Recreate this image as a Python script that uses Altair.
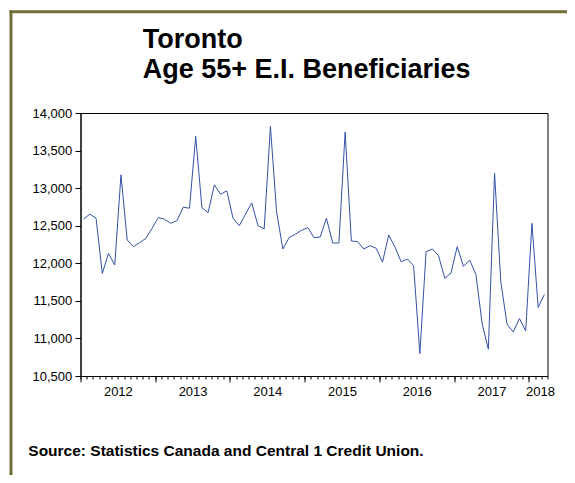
import altair as alt
import pandas as pd

# Monthly values (index 0 = first month shown)
VALUES = [12590, 12653, 12600, 11865, 12132, 11977, 13177, 12310, 12221, 12275,
          12332, 12466, 12608, 12586, 12532, 12568, 12746, 12733, 13689, 12741,
          12675, 13044, 12919, 12964, 12599, 12501, 12653, 12804, 12501, 12457,
          13822, 12679, 12190, 12341, 12386, 12439, 12475, 12341, 12350, 12599,
          12270, 12270, 13747, 12297, 12288, 12190, 12235, 12199, 12015, 12377,
          12215, 12021, 12057, 11968, 10798, 12154, 12190, 12101, 11799, 11870,
          12221, 11959, 12043, 11852, 11198, 10856, 13200, 11754, 11190, 11087,
          11265, 11101, 12532, 11412, 11585]

YEAR_LABELS = ["2012", "2013", "2014", "2015", "2016", "2017", "2018"]
YEAR_LABEL_POS = [6, 18, 30, 42, 54, 66, 73.8]
MAJOR_TICKS = [0, 12, 24, 36, 48, 60, 72]
MINOR_TICKS = list(range(0, 76))
Y_TICKS = [10500, 11000, 11500, 12000, 12500, 13000, 13500, 14000]
TITLE_LINES = ["Toronto", "Age 55+ E.I. Beneficiaries"]
SOURCE = "Source: Statistics Canada and Central 1 Credit Union."

FONT = "Liberation Sans"
LINE_COLOR = "#3352A6"
FRAME_COLOR = "#6E6E36"

df = pd.DataFrame({"m": [i + 0.5 for i in range(len(VALUES))], "v": VALUES})
one = pd.DataFrame({"k": [0]})

xscale = alt.Scale(domain=[0, len(VALUES)], nice=False, zero=False)
yscale = alt.Scale(domain=[Y_TICKS[0], Y_TICKS[-1]], nice=False, zero=False)

label_expr = "{" + ",".join(f"'{p}':'{l}'" for p, l in zip(YEAR_LABEL_POS, YEAR_LABELS)) + "}[datum.value]"

yaxis = alt.Axis(values=Y_TICKS, labelExpr="format(datum.value, ',.0f')", tickSize=5.5,
                 labelPadding=3.3, grid=False, title=None, labelFlush=False,
                 labelOverlap=False, labelBound=False)

line = alt.Chart(df).mark_line(color=LINE_COLOR, strokeWidth=1).encode(
    x=alt.X("m:Q", scale=xscale,
            axis=alt.Axis(values=YEAR_LABEL_POS, labelExpr=label_expr, ticks=False, tickSize=0,
                          labelPadding=9.5, orient="bottom", grid=False, title=None,
                          labelFlush=False, labelOverlap=False, labelBound=False, domain=True)),
    y=alt.Y("v:Q", scale=yscale, axis=yaxis),
)

minor = alt.Chart(df).mark_line(opacity=0).encode(
    x=alt.X("m:Q", scale=xscale,
            axis=alt.Axis(values=MINOR_TICKS, tickSize=3, labels=False, domain=False,
                          orient="bottom", grid=False, title=None)),
    y=alt.Y("v:Q", scale=yscale, axis=yaxis),
)

major = alt.Chart(df).mark_line(opacity=0).encode(
    x=alt.X("m:Q", scale=xscale,
            axis=alt.Axis(values=MAJOR_TICKS, tickSize=6, labels=False, domain=False,
                          orient="bottom", grid=False, title=None)),
    y=alt.Y("v:Q", scale=yscale, axis=yaxis),
)

def text_layer(txt, x, y, size):
    return alt.Chart(pd.DataFrame({"t": [txt]})).mark_text(
        align="left", baseline="alphabetic", font=FONT, fontSize=size,
        fontWeight="bold", color="black"
    ).encode(x=alt.value(x), y=alt.value(y), text="t:N")

t1 = text_layer(TITLE_LINES[0], 62.2, -64.7, 27)
t2 = text_layer(TITLE_LINES[1], 62.2, -34.7, 27)
src = text_layer(SOURCE, -52.2, 342.7, 15.5)

vrule = alt.Chart(one).mark_rule(color=FRAME_COLOR, strokeWidth=3).encode(
    x=alt.value(-69.5), y=alt.value(-102.7), y2=alt.value(362))
hrule = alt.Chart(one).mark_rule(color=FRAME_COLOR, strokeWidth=3).encode(
    y=alt.value(-101.2), x=alt.value(-71), x2=alt.value(487))

chart = alt.layer(line, minor, major, t1, t2, src, vrule, hrule).resolve_axis(
    x="independent"
).properties(
    width=467, height=263,
    autosize=alt.AutoSizeParams(type="none"),
    padding={"left": 72.5, "top": 105, "right": 19.5, "bottom": 99},
    background="white",
).configure_view(
    stroke="black", strokeWidth=1
).configure_axis(
    labelFont=FONT, labelFontSize=13, labelColor="black",
    tickColor="black", domainColor="black", tickWidth=1, domainWidth=1,
)

chart.save("out.html", embed_options={"renderer": "svg", "actions": False})
